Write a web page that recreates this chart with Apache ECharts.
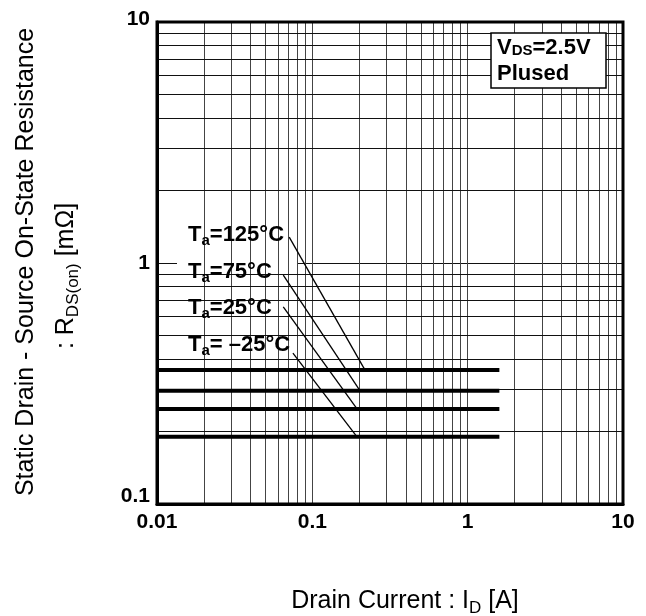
<!DOCTYPE html>
<html><head><meta charset="utf-8">
<script src="https://cdn.jsdelivr.net/npm/echarts@6/dist/echarts.min.js"></script>
<style>html,body{margin:0;padding:0;background:#fff}#c{width:646px;height:616px}</style>
</head><body><div id="c"></div>
<script>
// ---- data ----
const xTickLabels = ['0.01', '0.1', '1', '10'];
const yTickLabels = ['0.1', '1', '10'];
const currentA = [0.01, 1.6];
const rTa125 = [0.36, 0.36];
const rTa75 = [0.295, 0.295];
const rTa25 = [0.248, 0.248];
const rTaM25 = [0.19, 0.19];
const tempNames = ['=125°C', '=75°C', '=25°C', '= \u201325°C'];
// leader line start points (near label end) in data units
const leaderStartX = [0.071, 0.065, 0.065, 0.075];
const leaderStartY = [1.28, 0.89, 0.657, 0.423];
// leader line end points (on curve) in data units
const leaderEndX = [0.218, 0.203, 0.194, 0.194];

const F = '"Liberation Sans", Arial, sans-serif';
const GL = 157, GT = 22, GW = 466, GH = 482;

const minorX = [], minorY = [];
for (let k = -2; k <= 0; k++) for (let d = 2; d <= 9; d++) minorX.push(+(d * Math.pow(10, k)).toPrecision(3));
for (let k = -1; k <= 0; k++) for (let d = 2; d <= 9; d++) minorY.push(+(d * Math.pow(10, k)).toPrecision(3));

const curves = [rTa125, rTa75, rTa25, rTaM25];
const fmt = v => String(+(+v).toPrecision(3));

const chart = echarts.init(document.getElementById('c'), null, {renderer: 'canvas'});

const series = [];
series.push({
  type: 'line', data: [], z: 1, silent: true,
  markLine: {
    silent: true, symbol: ['none', 'none'], animation: false,
    label: {show: false},
    lineStyle: {type: 'solid', width: 1, color: '#444'},
    emphasis: {disabled: true},
    data: minorX.map(v => ({xAxis: v, lineStyle: {color: '#444', width: 1, type: 'solid'}}))
      .concat(minorY.map(v => ({yAxis: v, lineStyle: {color: '#111', width: 1, type: 'solid'}})))
  }
});
curves.forEach(c => {
  series.push({
    type: 'line', z: 5, showSymbol: false, silent: true,
    data: currentA.map((x, i) => [x, c[i]]),
    lineStyle: {color: '#000', width: 4}
  });
});
curves.forEach((c, i) => {
  series.push({
    type: 'line', z: 6, showSymbol: false, silent: true,
    data: [[leaderStartX[i], leaderStartY[i]], [leaderEndX[i], c[0]]],
    lineStyle: {color: '#000', width: 1.3}
  });
});

const tRich = {
  t: {fontSize: 22, fontWeight: 'bold', fontFamily: F, fill: '#000'},
  s: {fontSize: 15, fontWeight: 'bold', fontFamily: F, fill: '#000', padding: [12, 0, 0, 0]}
};
const labelCy = [235, 272, 308, 345];
const graphics = [];
tempNames.forEach((n, i) => {
  graphics.push({type: 'rect', z: 3, silent: true,
    shape: {x: 177, y: labelCy[i] - 14, width: 120, height: 27},
    style: {fill: '#fff'}});
  graphics.push({type: 'text', z: 7, silent: true, x: 188, y: labelCy[i],
    style: {text: '{t|T}{s|a}{t|' + n + '}', rich: tRich, verticalAlign: 'middle', align: 'left'}});
});
// condition box
graphics.push({type: 'rect', z: 50, silent: true,
  shape: {x: 491, y: 33, width: 115, height: 55},
  style: {fill: '#fff', stroke: '#000', lineWidth: 1.5}});
graphics.push({type: 'text', z: 51, silent: true, x: 497, y: 48,
  style: {text: '{v|V}{d|DS}{v|=2.5V}', verticalAlign: 'middle', align: 'left',
    rich: {v: {fontSize: 22, fontWeight: 'bold', fontFamily: F, verticalAlign: 'bottom'},
           d: {fontSize: 15, fontWeight: 'bold', fontFamily: F, verticalAlign: 'bottom', padding: [0, 0, 1, 0]}}}});
graphics.push({type: 'text', z: 51, silent: true, x: 497, y: 74,
  style: {text: 'Plused', verticalAlign: 'middle', align: 'left',
    font: 'bold 22px ' + F, fill: '#000'}});
// frame
graphics.push({type: 'rect', z: 60, silent: true,
  shape: {x: GL, y: GT, width: GW, height: GH},
  style: {fill: 'none', stroke: '#000', lineWidth: 3}});
// axis titles
const titleRich = {
  m: {fontSize: 25, fontFamily: F, fill: '#000'},
  sb: {fontSize: 17, fontFamily: F, fill: '#000', padding: [14, 0, 0, 0]}
};
graphics.push({type: 'text', z: 51, silent: true, x: 26, y: 262, rotation: Math.PI / 2,
  style: {text: 'Static Drain - Source On-State Resistance', font: '25px ' + F,
    fill: '#000', align: 'center', verticalAlign: 'middle'}});
graphics.push({type: 'text', z: 51, silent: true, x: 66, y: 276, rotation: Math.PI / 2,
  style: {text: '{m|: R}{sb|DS(on)}{m| [m\u03A9]}', rich: titleRich, align: 'center', verticalAlign: 'middle'}});
graphics.push({type: 'text', z: 51, silent: true, x: 405, y: 601,
  style: {text: '{m|Drain Current : I}{sb|D}{m| [A]}', rich: titleRich, align: 'center', verticalAlign: 'middle'}});

const yLabStyle = {fontSize: 21, fontWeight: 'bold', color: '#000', fontFamily: F};
chart.setOption({
  animation: false,
  backgroundColor: '#fff',
  grid: {left: GL, top: GT, width: GW, height: GH, show: false},
  xAxis: {
    type: 'log', logBase: 10, min: 0.01, max: 10,
    axisLine: {show: true, lineStyle: {color: '#000', width: 3}},
    axisTick: {show: false},
    splitLine: {show: true, lineStyle: {color: '#444', width: 1}},
    axisLabel: {fontSize: 21, fontWeight: 'bold', color: '#000', fontFamily: F, margin: 8,
      formatter: v => xTickLabels.includes(fmt(v)) ? fmt(v) : ''}
  },
  yAxis: {
    type: 'log', logBase: 10, min: 0.1, max: 10,
    axisLine: {show: true, lineStyle: {color: '#000', width: 3}},
    axisTick: {show: false},
    splitLine: {show: true, lineStyle: {color: '#111', width: 1}},
    axisLabel: {fontSize: 21, fontWeight: 'bold', color: '#000', fontFamily: F, margin: 7,
      rich: {lo: Object.assign({padding: [0, 0, 16, 0]}, yLabStyle),
             hi: Object.assign({padding: [0, 0, 5, 0]}, yLabStyle),
             n: yLabStyle},
      formatter: v => {
        const s = fmt(v);
        if (!yTickLabels.includes(s)) return '';
        const key = s === yTickLabels[0] ? 'lo' : (s === yTickLabels[yTickLabels.length - 1] ? 'hi' : 'n');
        return '{' + key + '|' + s + '}';
      }}
  },
  series: series,
  graphic: graphics
});
</script></body></html>
